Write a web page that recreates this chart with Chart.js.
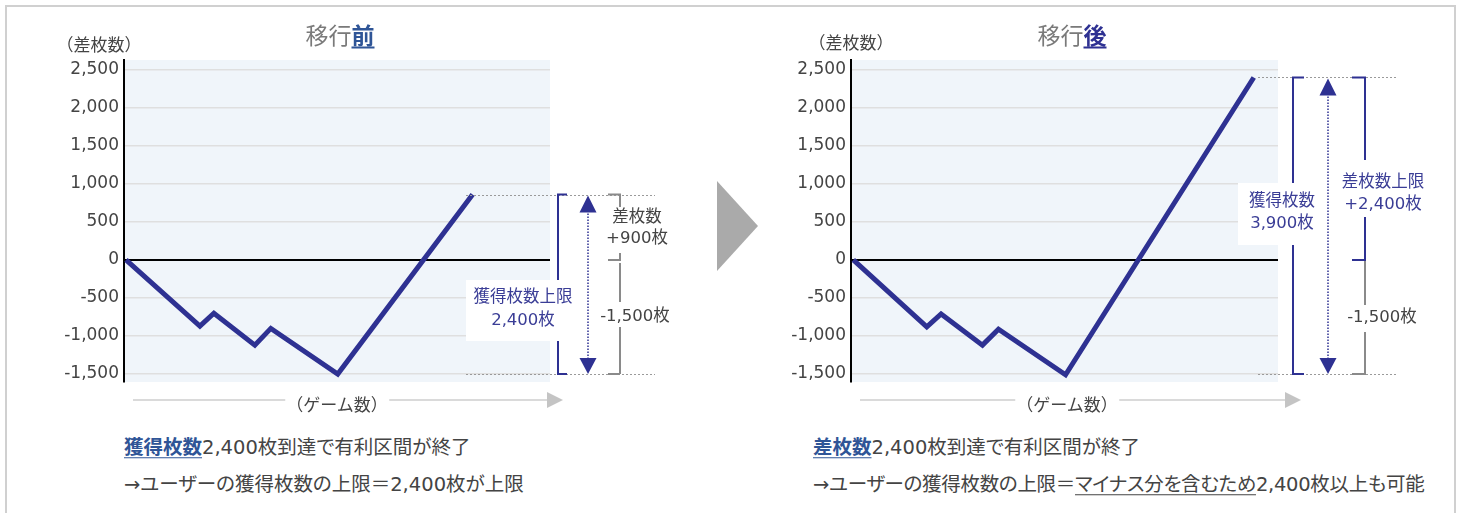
<!DOCTYPE html>
<html>
<head>
<meta charset="utf-8">
<script src="https://cdn.jsdelivr.net/npm/chart.js@4.4.1/dist/chart.umd.min.js"></script>
<style>
  html,body{margin:0;padding:0;background:#fff;}
  body{width:1461px;height:513px;overflow:hidden;position:relative;font-family:"DejaVu Sans","Noto Sans CJK JP",sans-serif;color:#444;}
  #frame{position:absolute;left:5px;top:5px;width:1447px;height:600px;border:2px solid #d0d0d0;box-sizing:content-box;}
  canvas{position:absolute;top:0;}
  #cL{left:0;}
  #cR{left:720px;}
  .t{position:absolute;white-space:nowrap;line-height:1;}
  .title{font-size:23px;color:#7a7a7a;transform:translate(-50%,-50%);font-family:"Noto Sans CJK JP",sans-serif;}
  .title b{text-decoration:underline;text-underline-offset:3px;text-decoration-thickness:2px;}
  .ylab{font-size:17px;color:#444;transform:translate(-50%,-50%);font-family:"Noto Sans CJK JP",sans-serif;}
  .xlab{font-size:17px;color:#444;transform:translate(-50%,-50%);background:#fff;padding:0 1px;font-family:"Noto Sans CJK JP",sans-serif;}
  .xline{position:absolute;height:2px;background:#dadada;}
  .xarrow{position:absolute;width:0;height:0;border-left:16px solid #c4c4c4;border-top:8px solid transparent;border-bottom:8px solid transparent;}
  .note{font-size:19.5px;color:#444;transform:translateY(-50%);font-feature-settings:"palt";}
  .note b{color:#2f5597;text-decoration:underline;text-underline-offset:3px;}
  .note u{text-underline-offset:3px;}
  #bigArrow{position:absolute;left:717px;top:181px;width:0;height:0;border-left:41px solid #aaaaaa;border-top:45px solid transparent;border-bottom:45px solid transparent;}
</style>
</head>
<body>
<div id="frame"></div>
<canvas id="cL" width="700" height="420"></canvas>
<canvas id="cR" width="741" height="420"></canvas>

<div class="t title" style="left:340px;top:34px;">移行<b style="color:#2f5597">前</b></div>
<div class="t title" style="left:1072px;top:34px;">移行<b style="color:#2e3192">後</b></div>
<div class="t ylab" style="left:99px;top:43px;">（差枚数）</div>
<div class="t ylab" style="left:851px;top:41px;">（差枚数）</div>

<div class="xline" style="left:133px;top:399px;width:414px;"></div>
<div class="xarrow" style="left:547px;top:392px;"></div>
<div class="t xlab" style="left:337px;top:403px;">（ゲーム数）</div>

<div class="xline" style="left:860px;top:399px;width:425px;"></div>
<div class="xarrow" style="left:1285px;top:392px;"></div>
<div class="t xlab" style="left:1067px;top:403px;">（ゲーム数）</div>

<div id="bigArrow"></div>

<div class="t note" style="left:124px;top:448px;"><b>獲得枚数</b>2,400枚到達で有利区間が終了</div>
<div class="t note" style="left:124px;top:485px;">→ユーザーの獲得枚数の上限＝2,400枚が上限</div>
<div class="t note" style="left:813px;top:448px;"><b>差枚数</b>2,400枚到達で有利区間が終了</div>
<div class="t note" style="left:813px;top:485px;letter-spacing:-0.3px;">→ユーザーの獲得枚数の上限＝<u>マイナス分を含むため</u>2,400枚以上も可能</div>

<script>
// ---- data ----
const gamesBefore = [20, 760, 900, 1310, 1470, 2140, 3490];
const diffBefore  = [0, -870, -700, -1120, -900, -1500, 860];
const gamesAfter  = [23, 757, 900, 1313, 1473, 2143, 4023];
const diffAfter   = [0, -880, -710, -1120, -910, -1510, 2400];
const yTickValues = [2500, 2000, 1500, 1000, 500, 0, -500, -1000, -1500];
const yTickLabels = ['2,500', '2,000', '1,500', '1,000', '500', '0', '-500', '-1,000', '-1,500'];
const yMin = -1605, yMax = 2630;
const xMax = 4265;
const lossLevel = -1500;

const FONT = '"DejaVu Sans","Noto Sans CJK JP",sans-serif';
const BLUE = '#2e3192';
const BLUE_TXT = '#3a3d96';
const GRAY = '#8a8a8a';
const GRAY_TXT = '#444';

function dotted(ctx, x1, x2, y) {
  ctx.save(); ctx.strokeStyle = '#9a9a9a'; ctx.lineWidth = 1; ctx.setLineDash([2, 2]);
  ctx.beginPath(); ctx.moveTo(x1, Math.round(y) + 0.5); ctx.lineTo(x2, Math.round(y) + 0.5); ctx.stroke(); ctx.restore();
}
function bracket(ctx, x, tx, y1, y2, color) {
  ctx.save(); ctx.strokeStyle = color; ctx.lineWidth = 2; ctx.lineJoin = 'miter';
  ctx.beginPath(); ctx.moveTo(tx, y1); ctx.lineTo(x, y1); ctx.lineTo(x, y2); ctx.lineTo(tx, y2); ctx.stroke(); ctx.restore();
}
function dblArrow(ctx, x, y1, y2) {
  ctx.save();
  ctx.strokeStyle = BLUE; ctx.lineWidth = 1.5; ctx.setLineDash([1.5, 1.5]);
  ctx.beginPath(); ctx.moveTo(x, y1 + 10); ctx.lineTo(x, y2 - 10); ctx.stroke();
  ctx.setLineDash([]); ctx.fillStyle = BLUE;
  ctx.beginPath(); ctx.moveTo(x, y1 + 1); ctx.lineTo(x - 8.5, y1 + 18); ctx.lineTo(x + 8.5, y1 + 18); ctx.closePath(); ctx.fill();
  ctx.beginPath(); ctx.moveTo(x, y2); ctx.lineTo(x - 8.5, y2 - 16); ctx.lineTo(x + 8.5, y2 - 16); ctx.closePath(); ctx.fill();
  ctx.restore();
}
function label(ctx, lines, cx, cys, color, box) {
  ctx.save();
  if (box) { ctx.fillStyle = '#fff'; ctx.fillRect(box[0], box[1], box[2], box[3]); }
  ctx.fillStyle = color; ctx.font = '16.5px ' + FONT; ctx.textAlign = 'center'; ctx.textBaseline = 'middle';
  lines.forEach((s, i) => ctx.fillText(s, cx, cys[i]));
  ctx.restore();
}

const bgPlugin = {
  id: 'plotBg',
  beforeDraw(chart) {
    const a = chart.chartArea, ctx = chart.ctx;
    ctx.save(); ctx.fillStyle = '#f0f5fa'; ctx.fillRect(a.left, a.top, a.right - a.left, a.bottom - a.top); ctx.restore();
  }
};

function annoBefore(chart) {
  const ctx = chart.ctx, y = chart.scales.y;
  const yTop = y.getPixelForValue(diffBefore[diffBefore.length - 1]);
  const y0 = y.getPixelForValue(0);
  const yBot = y.getPixelForValue(lossLevel);
  dotted(ctx, 466, 655, yTop); dotted(ctx, 466, 655, yBot);
  bracket(ctx, 558, 567, yTop, yBot, BLUE);
  dblArrow(ctx, 588, yTop, yBot);
  label(ctx, ['獲得枚数上限', '2,400枚'], 523, [298, 321], BLUE_TXT, [466, 280, 110, 61]);
  bracket(ctx, 620, 608, yTop, y0, GRAY);
  label(ctx, ['差枚数', '+900枚'], 637, [218, 239], GRAY_TXT, [600, 207, 74, 46]);
  bracket(ctx, 620, 620, y0 + 3, yBot, GRAY);
  bracket(ctx, 620, 608, yBot, yBot, GRAY);
  label(ctx, ['-1,500枚'], 635, [317], GRAY_TXT, [596, 302, 80, 25]);
}
function annoAfter(chart) {
  const ctx = chart.ctx, y = chart.scales.y, o = 720;
  const yTop = y.getPixelForValue(diffAfter[diffAfter.length - 1]);
  const y0 = y.getPixelForValue(0);
  const yBot = y.getPixelForValue(lossLevel);
  dotted(ctx, 1258 - o, 1398 - o, yTop); dotted(ctx, 1258 - o, 1398 - o, yBot);
  bracket(ctx, 1293 - o, 1304 - o, yTop, yBot, BLUE);
  dblArrow(ctx, 1328 - o, yTop, yBot);
  label(ctx, ['獲得枚数', '3,900枚'], 1282 - o, [202, 224], BLUE_TXT, [1238 - o, 183, 82, 62]);
  bracket(ctx, 1365 - o, 1352 - o, yTop, y0, BLUE);
  label(ctx, ['差枚数上限', '+2,400枚'], 1383 - o, [183, 205], BLUE_TXT, [1336 - o, 160, 96, 57]);
  ctx.save(); ctx.strokeStyle = GRAY; ctx.lineWidth = 2;
  ctx.beginPath(); ctx.moveTo(1365 - o, y0 + 1); ctx.lineTo(1365 - o, yBot); ctx.lineTo(1352 - o, yBot); ctx.stroke(); ctx.restore();
  label(ctx, ['-1,500枚'], 1382 - o, [318], GRAY_TXT, [1342 - o, 305, 80, 27]);
}

function makeChart(id, xs, ys, axisWidth, padRight, annoFn) {
  return new Chart(document.getElementById(id), {
    type: 'line',
    data: {
      datasets: [{
        data: xs.map((x, i) => ({ x: x, y: ys[i] })),
        borderColor: BLUE, borderWidth: 5, pointRadius: 0, tension: 0,
        borderJoinStyle: 'miter', borderCapStyle: 'butt', fill: false
      }]
    },
    options: {
      responsive: false, animation: false, devicePixelRatio: 1,
      layout: { padding: { left: 0, top: 60, right: padRight, bottom: 38 } },
      plugins: { legend: { display: false }, tooltip: { enabled: false }, title: { display: false } },
      scales: {
        x: { type: 'linear', min: 0, max: xMax, display: false },
        y: {
          type: 'linear', min: yMin, max: yMax,
          afterBuildTicks: s => { s.ticks = yTickValues.map(v => ({ value: v })); },
          afterFit: s => { s.width = axisWidth; },
          border: { display: true, color: '#000', width: 2 },
          grid: {
            drawTicks: false,
            color: c => (c.tick && c.tick.value === 0) ? '#000' : '#dfdfdf',
            lineWidth: c => (c.tick && c.tick.value === 0) ? 2 : 1.5
          },
          ticks: {
            padding: 5, color: '#444', font: { size: 17, family: FONT },
            callback: v => yTickLabels[yTickValues.indexOf(v)]
          }
        }
      }
    },
    plugins: [bgPlugin, { id: 'anno', afterDraw: annoFn }]
  });
}

makeChart('cL', gamesBefore, diffBefore, 124, 150, annoBefore);
makeChart('cR', gamesAfter, diffAfter, 131, 183, annoAfter);
</script>
</body>
</html>
